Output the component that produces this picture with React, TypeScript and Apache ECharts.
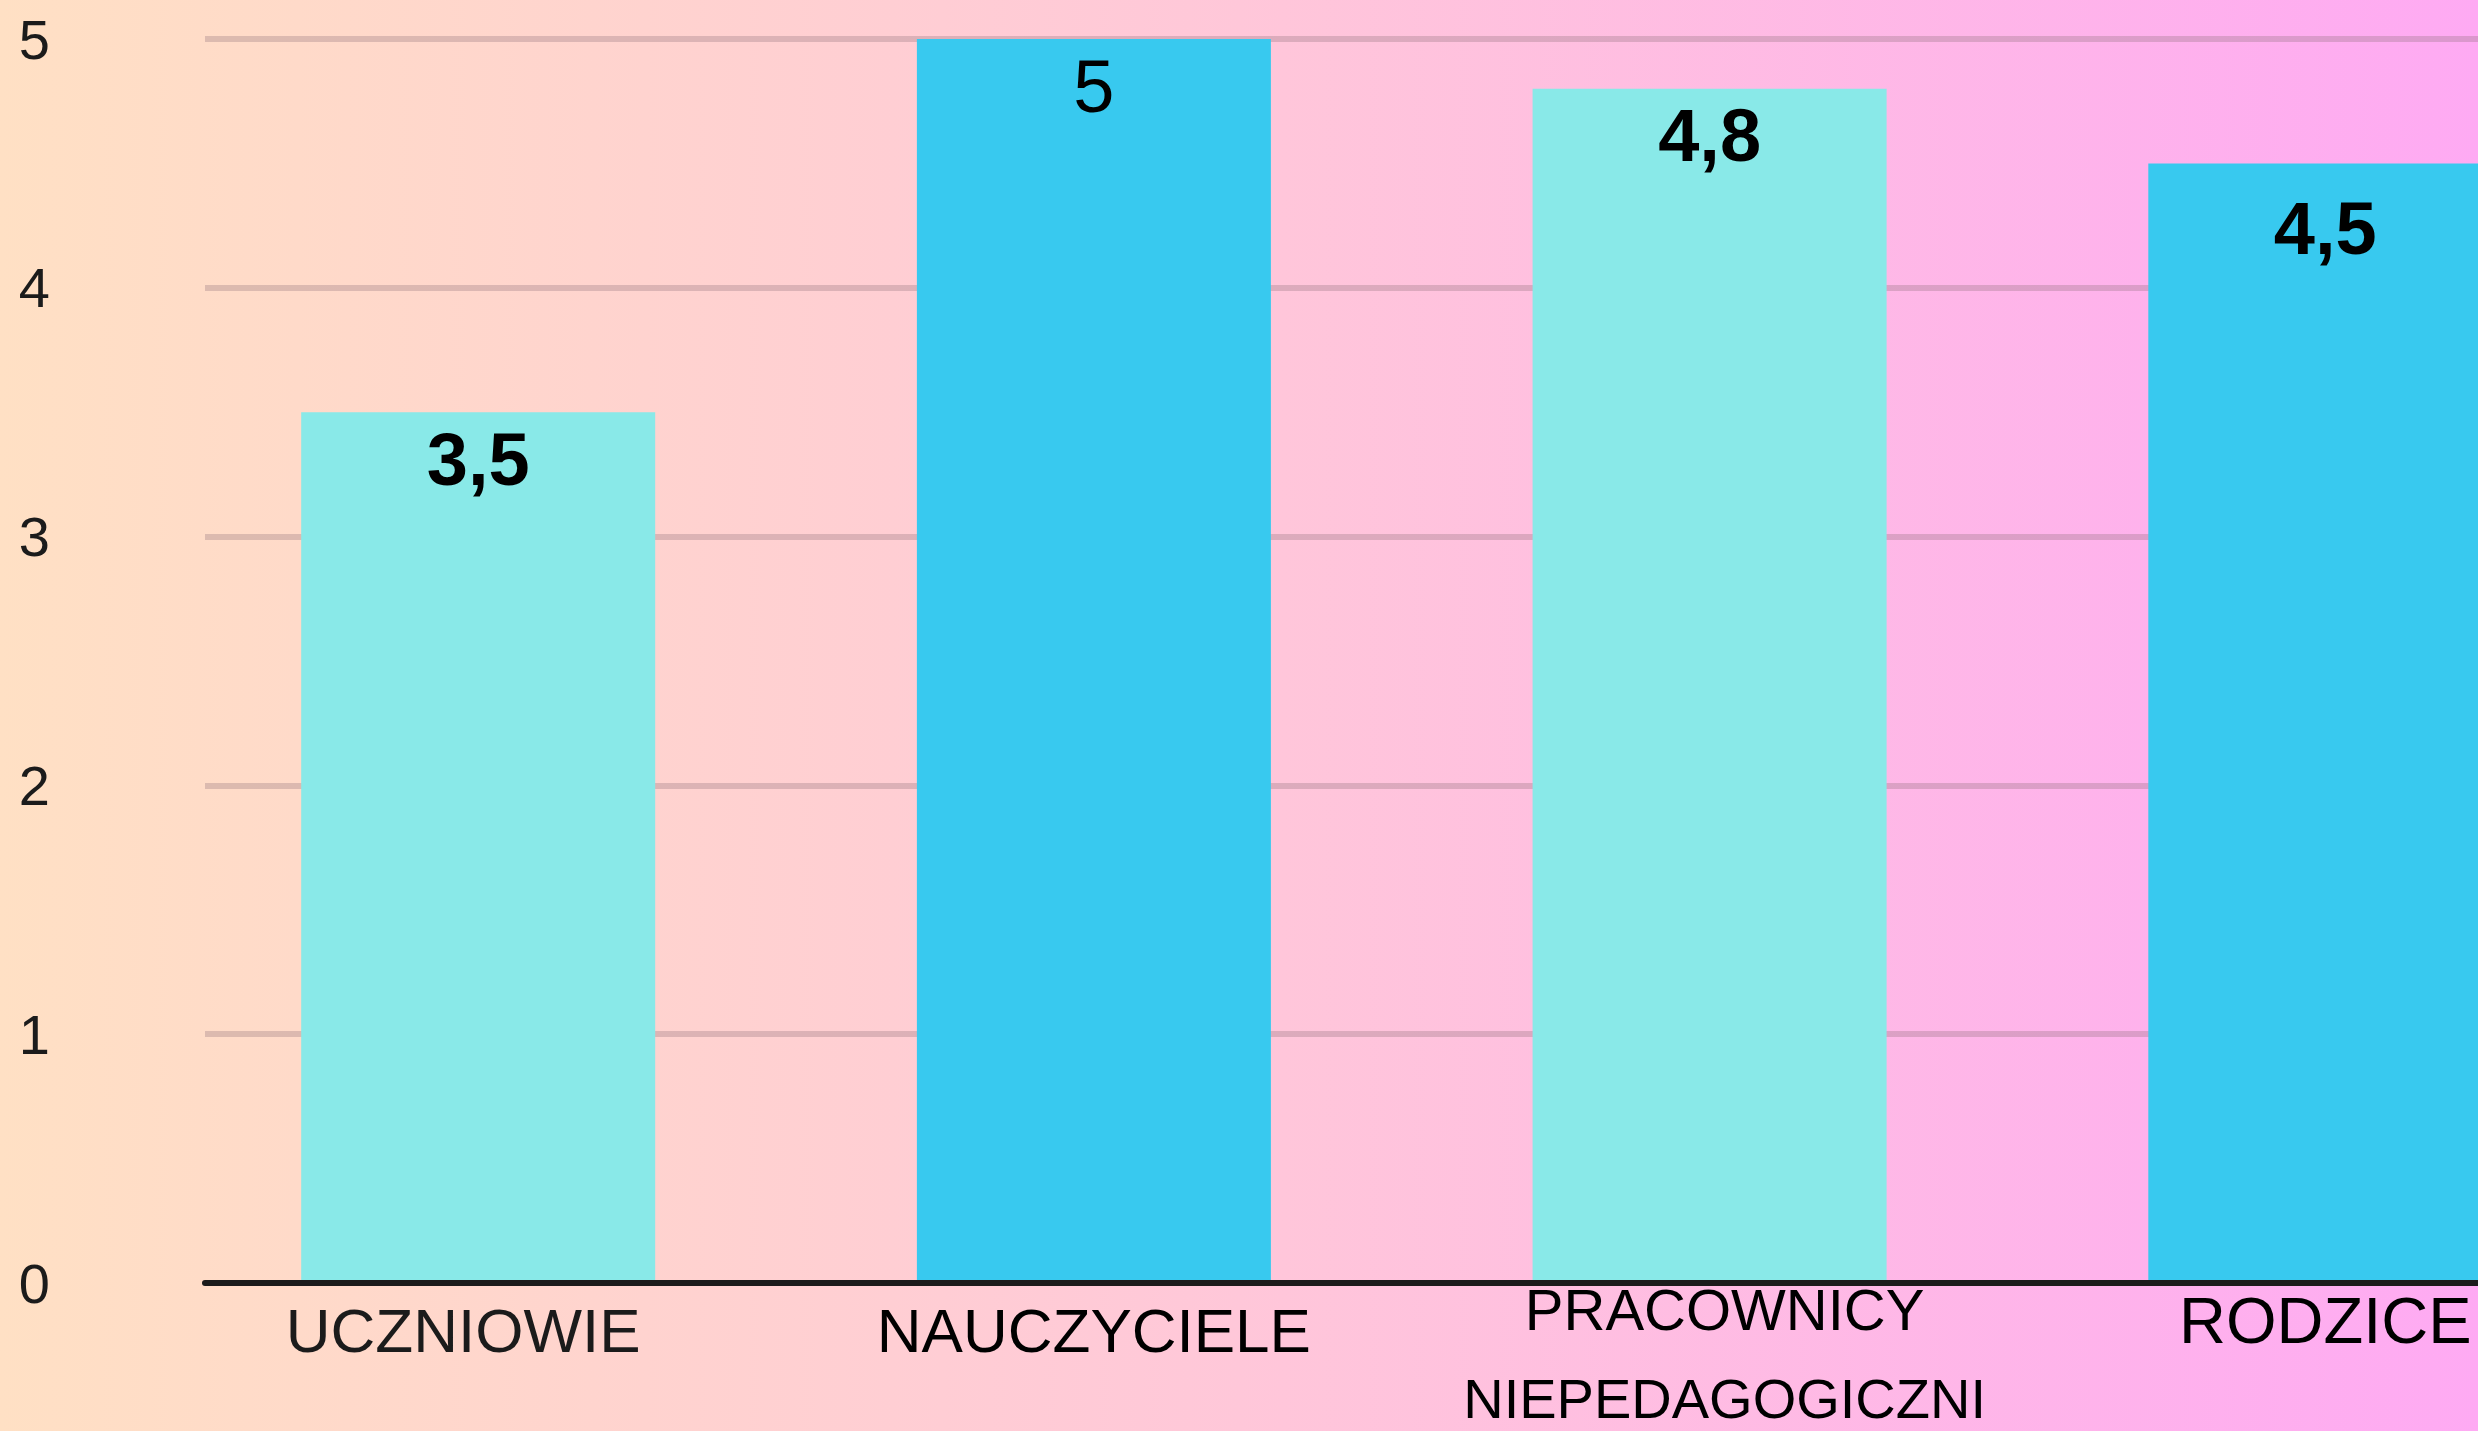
import React, { useEffect, useRef } from "react";
import * as echarts from "echarts";

const categories = ["UCZNIOWIE", "NAUCZYCIELE", "PRACOWNICY\nNIEPEDAGOGICZNI", "RODZICE"];
const values = [3.5, 5, 4.8, 4.5];
const barColors = ["#89E9E8", "#38C9EF", "#89E9E8", "#38C9EF"];
const yMin = 0;
const yMax = 5;
const yInterval = 1;

const FONT = "'Liberation Sans', Arial, Helvetica, sans-serif";

export default function App() {
  const ref = useRef<HTMLDivElement>(null);
  useEffect(() => {
    if (!ref.current) return;
    const chart = echarts.init(ref.current, undefined, { renderer: "svg" });
    const labelStyles = ["u", "s", "p", "r"];
    chart.setOption({
      animation: false,
      backgroundColor: new echarts.graphic.LinearGradient(0, 0, 1, 0, [
        { offset: 0, color: "#FFE0C4" },
        { offset: 0.5, color: "#FFC7D9" },
        { offset: 1, color: "#FEAAF3" },
      ]),
      grid: { left: 205, right: 0, top: 39, bottom: 148, containLabel: false },
      xAxis: {
        type: "value",
        min: -0.4437,
        max: 3.248,
        z: 5,
        axisLine: { show: true, onZero: true, lineStyle: { color: "#1B1B1B", width: 6 } },
        axisTick: { show: false },
        splitLine: { show: false },
        axisLabel: {
          show: true,
          customValues: categories.map((_, i) => i),
          margin: -44,
          formatter: (v: number) => {
            const i = Math.round(v);
            const name = categories[i];
            if (name === undefined) return "";
            const lines = name.split("\n");
            if (lines.length > 1) {
              return `{p1|${lines[0]}}\n{p2|${lines[1]}}`;
            }
            return `{${labelStyles[i]}|${name}}`;
          },
          rich: {
            u: { fontFamily: FONT, fontSize: 62, color: "#1B1B1B", lineHeight: 182, padding: [0, 30, 0, 0] },
            s: { fontFamily: FONT, fontSize: 62, color: "#000000", lineHeight: 182, padding: [0, 0, 0, 0] },
            p: { fontFamily: FONT, fontSize: 62, color: "#000000", lineHeight: 182 },
            r: { fontFamily: FONT, fontSize: 65, color: "#000000", lineHeight: 162, padding: [0, 0, 0, 0] },
            p1: { fontFamily: FONT, fontSize: 58, color: "#000000", lineHeight: 140, padding: [0, 0, 0, 30] },
            p2: { fontFamily: FONT, fontSize: 56, color: "#000000", lineHeight: 38, padding: [0, 0, 0, 30] },
          },
        },
      },
      yAxis: {
        type: "value",
        min: yMin,
        max: yMax,
        interval: yInterval,
        axisLine: { show: false },
        axisTick: { show: false },
        axisLabel: {
          margin: 155,
          fontFamily: FONT,
          fontSize: 56,
          color: "#1B1B1B",
        },
        splitLine: {
          show: true,
          lineStyle: { color: "rgba(140,110,120,0.3)", width: 6 },
        },
      },
      series: [
        {
          type: "bar",
          barWidth: 354,
          clip: false,
          data: values.map((v, i) => ({
            value: [i, v],
            itemStyle: { color: barColors[i] },
            label:
              i === 1
                ? { fontWeight: "normal" }
                : i === 3
                ? { distance: 28 }
                : {},
          })),
          label: {
            show: true,
            position: "insideTop",
            distance: 10,
            fontFamily: FONT,
            fontSize: 74,
            fontWeight: "bold",
            color: "#000000",
            formatter: (p: any) => String(p.value[1]).replace(".", ","),
          },
        },
      ],
    });
    return () => chart.dispose();
  }, []);
  return (
    <div
      ref={ref}
      style={{ position: "fixed", left: 0, top: 0, width: 2478, height: 1431 }}
    />
  );
}
